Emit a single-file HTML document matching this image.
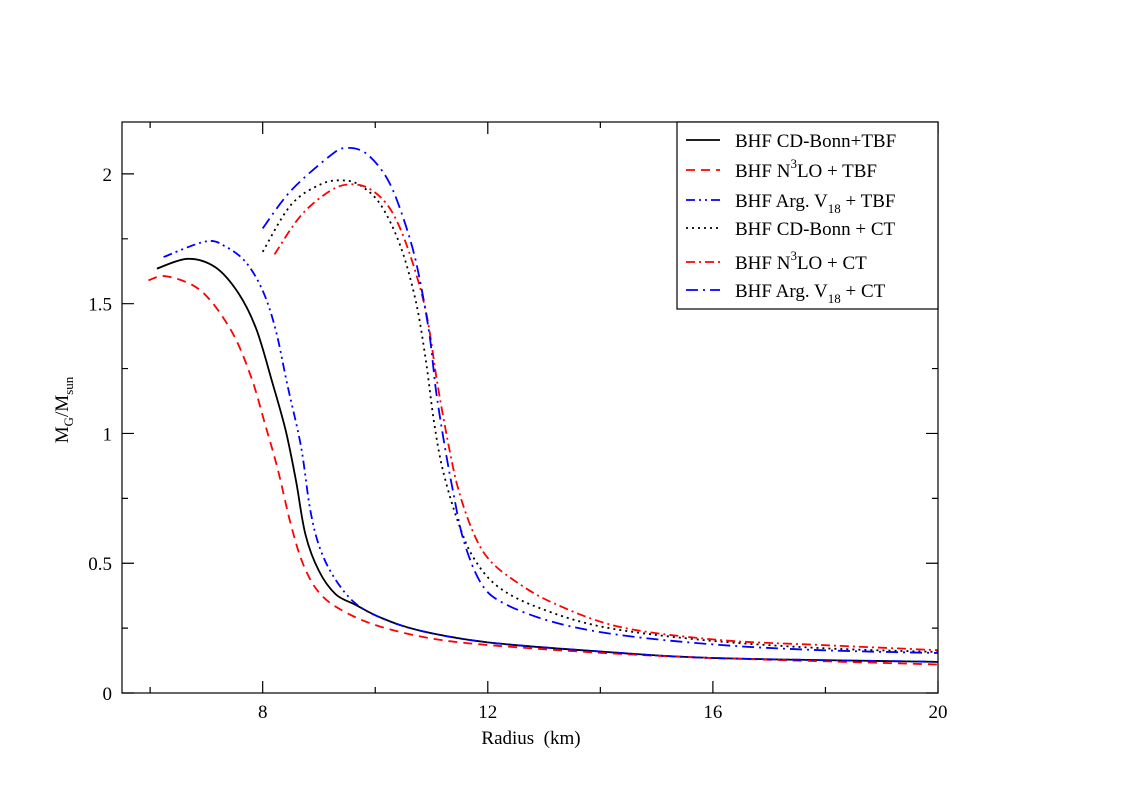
<!DOCTYPE html>
<html><head><meta charset="utf-8"><style>
body{margin:0;background:#fff;}
svg{display:block;font-family:"Liberation Serif",serif;}
</style></head><body>
<svg id="chart" width="1123" height="793">
<rect x="0" y="0" width="1123" height="793" fill="#fff"/>
<g id="axes"></g><g id="series"></g>
<rect x="122" y="122" width="816" height="571" fill="none" stroke="#000" stroke-width="1.2"/>
<text x="531" y="744" font-size="19" text-anchor="middle" style="white-space:pre">Radius  (km)</text>
<text transform="translate(68,410) rotate(-90)" font-size="19" text-anchor="middle">M<tspan font-size="13" dy="5">G</tspan><tspan dy="-5">/M</tspan><tspan font-size="13" dy="5">sun</tspan></text>
<g id="legend">
<rect x="677" y="122" width="261" height="187" fill="#fff" stroke="#000" stroke-width="1.2"/>
</g>
</svg>
<script>
const xTicks=[8,12,16,20];
const yTicks=[0,0.5,1,1.5,2];
const yTickLabels=["0","0.5","1","1.5","2"];
const names=["BHF CD-Bonn+TBF","BHF N3LO + TBF","BHF Arg. V18 + TBF","BHF CD-Bonn + CT","BHF N3LO + CT","BHF Arg. V18 + CT"];
const cdTbfX=[6.12,6.67,7.16,7.57,7.89,8.18,8.41,8.59,8.76,9.0,9.3,9.65,10.1,10.8,12,14,16,20];
const cdTbfY=[1.635,1.673,1.64,1.54,1.40,1.19,1.01,0.82,0.61,0.47,0.38,0.34,0.29,0.24,0.195,0.16,0.135,0.12];
const n3TbfX=[5.97,6.3,6.9,7.43,7.79,8.05,8.27,8.5,8.73,9.03,9.48,10.1,11,12,14,16,20];
const n3TbfY=[1.59,1.605,1.55,1.40,1.22,1.03,0.86,0.65,0.49,0.38,0.31,0.255,0.21,0.185,0.155,0.135,0.11];
const avTbfX=[6.24,6.99,7.34,7.7,8.0,8.23,8.44,8.68,8.85,9.03,9.3,9.65,10.1,10.8,12,14,16,20];
const avTbfY=[1.68,1.74,1.72,1.66,1.55,1.40,1.185,0.95,0.70,0.55,0.435,0.345,0.29,0.24,0.195,0.16,0.135,0.12];
const cdCtX=[8.0,8.5,9.03,9.42,9.74,10.1,10.45,10.72,10.9,11.04,11.2,11.47,11.75,12.18,12.89,14.06,15.84,17.92,20];
const cdCtY=[1.70,1.88,1.96,1.975,1.955,1.88,1.72,1.51,1.28,1.05,0.86,0.66,0.52,0.41,0.33,0.254,0.204,0.173,0.158];
const n3CtX=[8.21,8.68,9.2,9.56,9.92,10.28,10.6,10.9,11.11,11.29,11.47,11.72,12.0,12.46,13.17,14.36,16.14,17.92,20];
const n3CtY=[1.69,1.84,1.935,1.96,1.94,1.86,1.70,1.47,1.185,0.97,0.79,0.63,0.52,0.435,0.346,0.254,0.204,0.185,0.165];
const avCtX=[8.0,8.5,9.2,9.48,9.83,10.19,10.45,10.72,10.95,11.08,11.22,11.38,11.57,11.88,12.28,13.17,14.36,16.14,17.92,20];
const avCtY=[1.79,1.935,2.07,2.1,2.08,1.99,1.86,1.665,1.40,1.165,0.97,0.78,0.588,0.423,0.346,0.273,0.223,0.185,0.165,0.154];

const NS="http://www.w3.org/2000/svg";
const X0=122,X1=938,Y0=693,Y1=122,xmin=5.5,xmax=20,ymin=0,ymax=2.2;
const sx=v=>X0+(v-xmin)/(xmax-xmin)*(X1-X0);
const sy=v=>Y0-(v-ymin)/(ymax-ymin)*(Y0-Y1);
function mk(t,a,p){const e=document.createElementNS(NS,t);for(const k in a)e.setAttribute(k,a[k]);p.appendChild(e);return e;}
function smooth(P){let d='M'+P[0][0].toFixed(1)+','+P[0][1].toFixed(1);
 for(let i=0;i<P.length-1;i++){const p0=P[i-1]||P[i],p1=P[i],p2=P[i+1],p3=P[i+2]||p2;
  const c1=[p1[0]+(p2[0]-p0[0])/6,p1[1]+(p2[1]-p0[1])/6],c2=[p2[0]-(p3[0]-p1[0])/6,p2[1]-(p3[1]-p1[1])/6];
  d+='C'+c1.map(v=>v.toFixed(1)).join(',')+' '+c2.map(v=>v.toFixed(1)).join(',')+' '+p2[0].toFixed(1)+','+p2[1].toFixed(1);}
 return d;}
const ax=document.getElementById('axes');
for(let v=6;v<=20;v+=2){const major=xTicks.includes(v);const L=major?12:6;
 const t=mk('path',{d:`M${sx(v)},${Y0}v${-L}M${sx(v)},${Y1}v${L}`,stroke:'#000','stroke-width':1.2},ax);
 
 }
xTicks.forEach(v=>{const t=mk('text',{x:sx(v),y:Y0+25,'font-size':19,'text-anchor':'middle'},ax);t.textContent=v;
 
 });
for(let v=0;v<=2.01;v+=0.25){const major=Math.abs(v*2-Math.round(v*2))<1e-6;const L=major?12:6;
 const t=mk('path',{d:`M${X0},${sy(v)}h${L}M${X1},${sy(v)}h${-L}`,stroke:'#000','stroke-width':1.2},ax);
 
 }
yTicks.forEach((v,i)=>{const t=mk('text',{x:X0-10,y:sy(v)+7,'font-size':19,'text-anchor':'end'},ax);t.textContent=yTickLabels[i];
 
 });
const styles=[
 {c:'#000',d:'none',xs:cdTbfX,ys:cdTbfY,n:'cd-bonn-tbf-line'},
 {c:'#f00',d:'9,6',xs:n3TbfX,ys:n3TbfY,n:'n3lo-tbf-line'},
 {c:'#00f',d:'9,4,2,4,2,4',xs:avTbfX,ys:avTbfY,n:'argv18-tbf-line'},
 {c:'#000',d:'2,4',xs:cdCtX,ys:cdCtY,n:'cd-bonn-ct-line'},
 {c:'#f00',d:'9,4,2,4',xs:n3CtX,ys:n3CtY,n:'n3lo-ct-line'},
 {c:'#00f',d:'12,5,2,5',xs:avCtX,ys:avCtY,n:'argv18-ct-line'}];
const sg=document.getElementById('series');
styles.forEach(s=>{const P=s.xs.map((x,i)=>[sx(x),sy(s.ys[i])]);
 const p=mk('path',{d:smooth(P),fill:'none',stroke:s.c,'stroke-width':1.8,'stroke-dasharray':s.d,'stroke-linejoin':'round'},sg);
 
 });
const lg=document.getElementById('legend');
const ly=[140,170,200,228,262,290];
styles.forEach((s,i)=>{
 const g=mk('g',{},lg);
 
 
 mk('path',{d:`M686,${ly[i]}h34`,stroke:s.c,'stroke-width':1.8,'stroke-dasharray':s.d},g);
 const t=mk('text',{x:735,y:ly[i]+7,'font-size':19},g);
 const nm=names[i];
 if(nm.includes('N3LO')){const [a,b]=nm.split('N3LO');t.innerHTML=a+'N<tspan font-size="13" dy="-9">3</tspan><tspan dy="9">LO'+b+'</tspan>';}
 else if(nm.includes('V18')){const [a,b]=nm.split('V18');t.innerHTML=a+'V<tspan font-size="13" dy="6">18</tspan><tspan dy="-6">'+b+'</tspan>';}
 else t.textContent=nm;
});
</script>
</body></html>
